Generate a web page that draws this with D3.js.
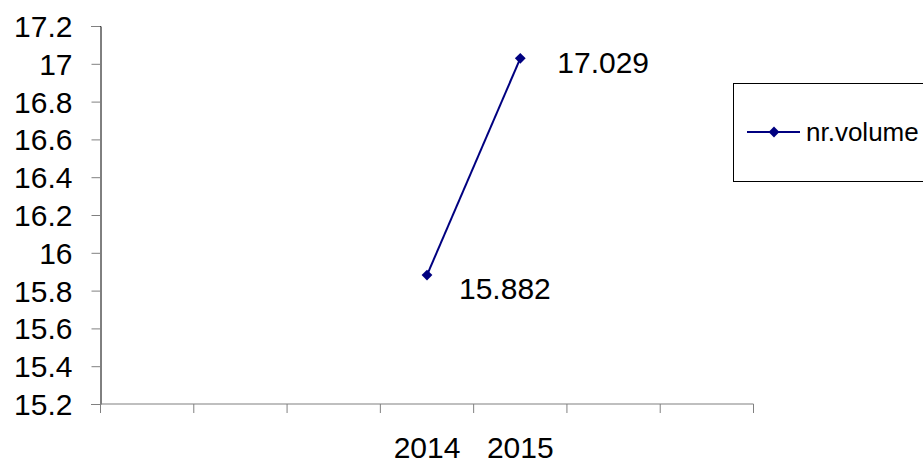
<!DOCTYPE html>
<html>
<head>
<meta charset="utf-8">
<script src="https://cdn.jsdelivr.net/npm/d3@7"></script>
<style>
  html, body { margin: 0; padding: 0; background: #fff; }
  svg { display: block; }
  text { font-family: "Liberation Sans", Arial, sans-serif; }
</style>
</head>
<body>
<svg id="chart" width="923" height="463"></svg>
<script>
// Data
const categoryLabels = ["", "", "", "2014", "2015", "", ""];
const seriesName = "nr.volume";
const seriesValues = [null, null, null, 15.882, 17.029, null, null];
const yTicks = [15.2, 15.4, 15.6, 15.8, 16, 16.2, 16.4, 16.6, 16.8, 17, 17.2];

const svg = d3.select("#chart");
const plot = { left: 100.5, right: 753.5, top: 26, bottom: 404 };

const x = d3.scaleBand().domain(d3.range(categoryLabels.length)).range([plot.left, plot.right]).padding(0);
const y = d3.scaleLinear().domain([15.2, 17.2]).range([plot.bottom, plot.top]);

const fontSize = 30;
const fontFam = "Liberation Sans, Arial, sans-serif";
const axisGray = "#808080";

// Y axis
const yAxis = svg.append("g")
  .attr("transform", `translate(${plot.left},0)`)
  .call(d3.axisLeft(y).tickValues(yTicks).tickSize(9).tickPadding(19).tickFormat(d3.format("")));
yAxis.select(".domain").attr("stroke", "#000").attr("stroke-width", 1);
yAxis.selectAll(".tick line").attr("stroke", axisGray).attr("stroke-width", 1);
yAxis.selectAll(".tick text").attr("font-size", fontSize).attr("fill", "#000")
  .attr("font-family", fontFam).attr("dy", "0.35em");

// X axis line
svg.append("line")
  .attr("x1", plot.left).attr("x2", plot.right)
  .attr("y1", y(15.2)).attr("y2", y(15.2))
  .attr("stroke", axisGray).attr("stroke-width", 1.2);

// X boundary ticks
const bounds = d3.range(categoryLabels.length).map(i => x(i)).concat([x.range()[1]]);
svg.append("g").selectAll("line").data(bounds).join("line")
  .attr("x1", d => d).attr("x2", d => d)
  .attr("y1", y(15.2)).attr("y2", y(15.2) + 9)
  .attr("stroke", axisGray).attr("stroke-width", 1);

// X labels
const xAxis = svg.append("g")
  .attr("transform", `translate(0,${y(15.2)})`)
  .call(d3.axisBottom(x).tickSize(0).tickPadding(0).tickFormat(i => categoryLabels[i]));
xAxis.select(".domain").remove();
xAxis.selectAll(".tick text").attr("font-size", fontSize).attr("fill", "#000")
  .attr("font-family", fontFam).attr("y", 54).attr("dy", "0");

// Series
const pts = seriesValues.map((v, i) => ({ i, v })).filter(d => d.v != null);
const cx = d => x(d.i) + x.bandwidth() / 2;
const color = "#000080";

svg.append("path")
  .datum(pts)
  .attr("fill", "none").attr("stroke", color).attr("stroke-width", 2)
  .attr("d", d3.line().x(cx).y(d => y(d.v)));

const sym = d3.symbol().type(d3.symbolSquare).size(58);
svg.append("g").selectAll("path").data(pts).join("path")
  .attr("d", sym)
  .attr("fill", color)
  .attr("transform", d => `translate(${cx(d)},${y(d.v)}) rotate(45)`);

// Data labels
svg.append("g").selectAll("text").data(pts).join("text")
  .attr("x", d => cx(d) + (d.v > 16.5 ? 37 : 32))
  .attr("y", d => y(d.v) + (d.v > 16.5 ? 15 : 24))
  .attr("font-size", fontSize)
  .attr("font-family", fontFam)
  .attr("fill", "#000")
  .text(d => d.v.toFixed(3));

// Legend
const lg = svg.append("g");
lg.append("rect")
  .attr("x", 733.5).attr("y", 83.5).attr("width", 200).attr("height", 98)
  .attr("fill", "#fff").attr("stroke", "#000").attr("stroke-width", 1);
lg.append("line")
  .attr("x1", 747).attr("x2", 800).attr("y1", 132).attr("y2", 132)
  .attr("stroke", color).attr("stroke-width", 2);
lg.append("path").attr("d", sym).attr("fill", color)
  .attr("transform", "translate(774,132) rotate(45)");
lg.append("text")
  .attr("x", 806).attr("y", 132).attr("dy", "0.35em")
  .attr("font-size", 26).attr("font-family", fontFam).attr("fill", "#000")
  .text(seriesName);
</script>
</body>
</html>
